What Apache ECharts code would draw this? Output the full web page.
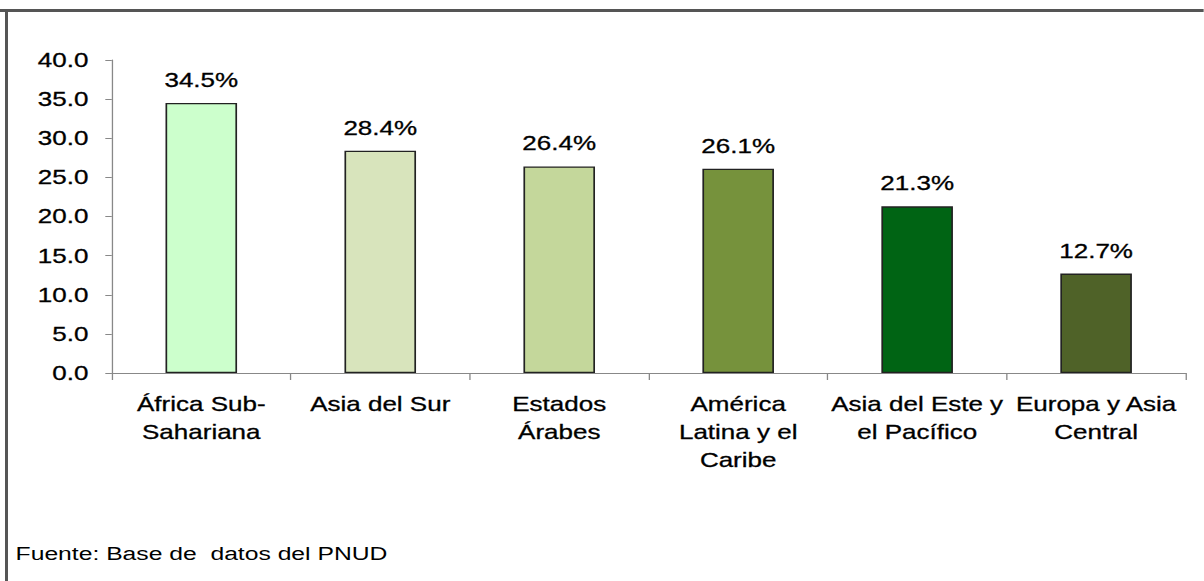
<!DOCTYPE html>
<html>
<head>
<meta charset="utf-8">
<script src="https://cdn.jsdelivr.net/npm/echarts@6/dist/echarts.min.js"></script>
<style>
  html, body { margin: 0; padding: 0; background: #fff; overflow: hidden; }
  /* the original picture is stretched horizontally, so is this one */
  #main { width: 926px; height: 581px; transform: scaleX(1.3); transform-origin: 0 0; }
</style>
</head>
<body>
<div id="main"></div>
<script>
var regiones = [
  'África Sub-\nSahariana',
  'Asia del Sur',
  'Estados\nÁrabes',
  'América\nLatina y el\nCaribe',
  'Asia del Este y\nel Pacífico',
  'Europa y Asia\nCentral'
];
var valores = [34.5, 28.4, 26.4, 26.1, 21.3, 12.7];
var colores = ['#ccffcc', '#d8e4bc', '#c4d79b', '#76923c', '#006414', '#4f6228'];
var ejeY = { min: 0, max: 40, interval: 5 };

var fuente = 'Liberation Sans, Arial, sans-serif';
// texto algo más grueso, como en la imagen original
var trazo = { textBorderColor: '#000', textBorderWidth: 0.3 };

var myChart = echarts.init(document.getElementById('main'), null, { renderer: 'svg' });
var option = {
  backgroundColor: '#fff',
  animation: false,
  title: {
    text: 'Fuente: Base de  datos del PNUD',
    left: 7,
    top: 539,
    textStyle: { fontFamily: fuente, fontSize: 19, fontWeight: 'normal', color: '#000' }
  },
  // marco del gráfico (solo arriba e izquierda)
  graphic: [
    { type: 'line', shape: { x1: 0, y1: 10.5, x2: 926, y2: 10.5 }, style: { stroke: '#555', lineWidth: 3 } },
    { type: 'line', shape: { x1: 5, y1: 10, x2: 5, y2: 581 }, style: { stroke: '#555', lineWidth: 2.3 } }
  ],
  grid: { left: 86, right: 14, top: 60, bottom: 208 },
  xAxis: {
    type: 'category',
    data: regiones,
    axisLine: { lineStyle: { color: '#888' } },
    axisTick: { show: true, length: 7, lineStyle: { color: '#888' } },
    axisLabel: Object.assign({
      interval: 0,
      margin: 17,
      color: '#000',
      fontFamily: fuente,
      fontSize: 20,
      lineHeight: 28
    }, trazo)
  },
  yAxis: {
    type: 'value',
    min: ejeY.min,
    max: ejeY.max,
    interval: ejeY.interval,
    axisLine: { show: true, lineStyle: { color: '#888' } },
    axisTick: { show: true, length: 5, lineStyle: { color: '#888' } },
    splitLine: { show: false },
    axisLabel: Object.assign({
      margin: 18,
      color: '#000',
      fontFamily: fuente,
      fontSize: 20,
      formatter: function (v) { return v.toFixed(1); }
    }, trazo)
  },
  series: [{
    type: 'bar',
    barWidth: '40%',
    data: valores.map(function (v, i) {
      return { value: v, itemStyle: { color: colores[i] } };
    }),
    itemStyle: { borderColor: '#222', borderWidth: 1.3 },
    label: Object.assign({
      show: true,
      position: 'top',
      distance: 13,
      color: '#000',
      fontFamily: fuente,
      fontSize: 20,
      formatter: function (p) { return p.value.toFixed(1) + '%'; }
    }, trazo)
  }]
};
myChart.setOption(option);
</script>
</body>
</html>
